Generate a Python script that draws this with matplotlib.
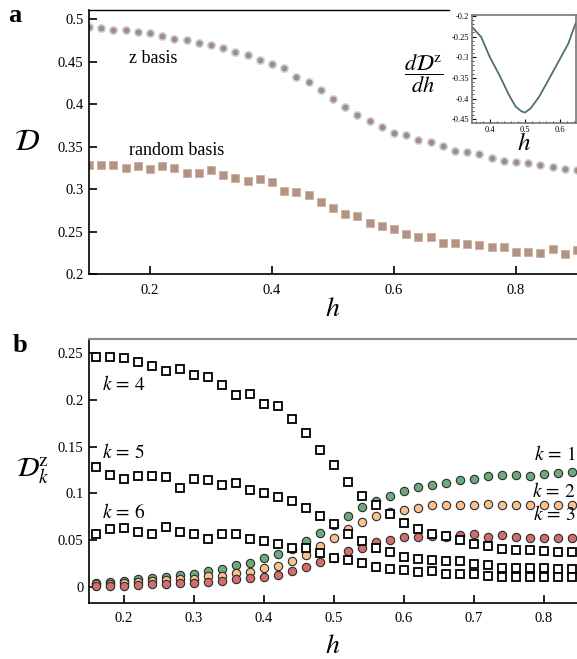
import numpy as np
import matplotlib
matplotlib.use("Agg")
import matplotlib.pyplot as plt

plt.rcParams['font.family'] = ['Liberation Serif', 'DejaVu Serif']
plt.rcParams['mathtext.fontset'] = 'stix'

# ---- panel a data ----
h_a = [0.10, 0.12, 0.14, 0.16, 0.18, 0.20, 0.22, 0.24, 0.26, 0.28, 0.30, 0.32, 0.34, 0.36,
       0.38, 0.40, 0.42, 0.44, 0.46, 0.48, 0.50, 0.52, 0.54, 0.56, 0.58, 0.60, 0.62, 0.64,
       0.66, 0.68, 0.70, 0.72, 0.74, 0.76, 0.78, 0.80, 0.82, 0.84, 0.86, 0.88, 0.90]
d_z = [0.491, 0.489, 0.487, 0.487, 0.485, 0.483, 0.480, 0.477, 0.475, 0.472, 0.469, 0.466,
       0.461, 0.458, 0.452, 0.447, 0.442, 0.432, 0.426, 0.416, 0.406, 0.396, 0.387, 0.380,
       0.373, 0.366, 0.363, 0.358, 0.355, 0.351, 0.345, 0.343, 0.341, 0.336, 0.333, 0.332,
       0.331, 0.328, 0.326, 0.323, 0.322]
d_rand = [0.328, 0.328, 0.328, 0.325, 0.327, 0.324, 0.327, 0.325, 0.319, 0.319, 0.322, 0.316,
          0.313, 0.310, 0.312, 0.308, 0.298, 0.296, 0.293, 0.285, 0.278, 0.271, 0.268, 0.260,
          0.256, 0.253, 0.247, 0.243, 0.244, 0.236, 0.236, 0.235, 0.234, 0.232, 0.232, 0.226,
          0.226, 0.225, 0.229, 0.224, 0.228]

# inset: derivative of D^z
h_in = [0.350, 0.376, 0.400, 0.428, 0.455, 0.474, 0.490, 0.500, 0.516, 0.540, 0.566,
        0.600, 0.623, 0.643]
dd_in = [-0.227, -0.251, -0.299, -0.344, -0.392, -0.420, -0.431, -0.434, -0.424, -0.396,
         -0.356, -0.303, -0.267, -0.219]

# ---- panel b data ----
h_b = [0.16, 0.18, 0.20, 0.22, 0.24, 0.26, 0.28, 0.30, 0.32, 0.34, 0.36, 0.38, 0.40, 0.42,
       0.44, 0.46, 0.48, 0.50, 0.52, 0.54, 0.56, 0.58, 0.60, 0.62, 0.64, 0.66, 0.68, 0.70,
       0.72, 0.74, 0.76, 0.78, 0.80, 0.82, 0.84]
k1 = [0.0043, 0.005, 0.006, 0.0079, 0.009, 0.011, 0.0125, 0.014, 0.0168, 0.019, 0.0232, 0.026,
      0.0304, 0.035, 0.040, 0.049, 0.058, 0.066, 0.076, 0.085, 0.092, 0.097, 0.102, 0.1065,
      0.109, 0.1115, 0.114, 0.115, 0.118, 0.120, 0.120, 0.119, 0.121, 0.122, 0.123]
k2 = [0.003, 0.003, 0.0036, 0.005, 0.0057, 0.007, 0.008, 0.0086, 0.0115, 0.012, 0.0143, 0.0154,
      0.0197, 0.0225, 0.028, 0.034, 0.044, 0.0525, 0.0615, 0.069, 0.076, 0.080, 0.082, 0.084,
      0.0875, 0.0875, 0.0875, 0.0875, 0.089, 0.088, 0.088, 0.088, 0.088, 0.0875, 0.0875]
k3 = [0.001, 0.001, 0.0014, 0.002, 0.0025, 0.003, 0.0036, 0.004, 0.0055, 0.0064, 0.0079, 0.009,
      0.0107, 0.0125, 0.0168, 0.021, 0.027, 0.031, 0.0386, 0.042, 0.048, 0.050, 0.0536, 0.0536,
      0.054, 0.053, 0.055, 0.056, 0.0536, 0.055, 0.0536, 0.052, 0.052, 0.052, 0.052]
k4 = [0.246, 0.246, 0.245, 0.240, 0.236, 0.231, 0.233, 0.227, 0.224, 0.216, 0.205, 0.206,
      0.196, 0.193, 0.179, 0.164, 0.146, 0.130, 0.112, 0.0975, 0.088, 0.078, 0.068, 0.062,
      0.057, 0.054, 0.050, 0.0457, 0.0436, 0.040, 0.039, 0.039, 0.038, 0.0375, 0.037]
k5 = [0.128, 0.120, 0.115, 0.119, 0.119, 0.117, 0.106, 0.115, 0.114, 0.109, 0.111, 0.104,
      0.100, 0.096, 0.092, 0.084, 0.076, 0.067, 0.057, 0.049, 0.041, 0.0375, 0.032, 0.030,
      0.029, 0.028, 0.028, 0.0243, 0.023, 0.0204, 0.0204, 0.0204, 0.020, 0.0194, 0.019]
k6 = [0.057, 0.062, 0.063, 0.059, 0.057, 0.064, 0.059, 0.056, 0.051, 0.057, 0.057, 0.051,
      0.049, 0.046, 0.042, 0.042, 0.036, 0.031, 0.0286, 0.026, 0.021, 0.019, 0.018, 0.016,
      0.0165, 0.0136, 0.0136, 0.0136, 0.0115, 0.011, 0.011, 0.011, 0.0107, 0.0107, 0.0107]

fig = plt.figure(figsize=(5.77, 6.59), dpi=100)

def style_axes(ax):
    ax.tick_params(direction='in', length=6, width=1.2, labelsize=10.5, pad=4)
    ax.tick_params(axis='x', pad=7)
    ax.spines['right'].set_visible(False)
    ax.spines['left'].set_linewidth(1.2)
    ax.spines['bottom'].set_linewidth(1.2)

# ---- panel a ----
ax1 = fig.add_axes([0.1542, 0.5842, 0.8458, 0.4006])
ax1.plot(h_a, d_z, 'o', ms=5.4, color='#a88b7e', mec='#c9d5ea', mew=1.1)
ax1.plot(h_a, d_rand, 's', ms=5.6, color='#b39383', mec='#c8aa9b', mew=0.5)
ax1.set_xlim(0.1, 0.9)
ax1.set_ylim(0.2, 0.5106)
ax1.set_xticks([0.2, 0.4, 0.6, 0.8])
ax1.set_yticks([0.2, 0.25, 0.3, 0.35, 0.4, 0.45, 0.5])
ax1.set_yticklabels(['0.2', '0.25', '0.3', '0.35', '0.4', '0.45', '0.5'])
style_axes(ax1)
ax1.spines['top'].set_linewidth(1.0)
ax1.spines['top'].set_bounds(0.1, 0.69)
ax1.set_xlabel('$h$', fontsize=20, labelpad=0)
ax1.set_ylabel(r'$\mathcal{D}$', fontsize=22, rotation=0, labelpad=22, va='center')
ax1.text(0.166, 0.454, 'z basis', fontsize=13, va='center')
ax1.text(0.166, 0.345, 'random basis', fontsize=13, va='center')
fig.text(0.026, 0.977, 'a', fontsize=19, fontweight='bold', va='center', ha='center')

# inset
axin = fig.add_axes([0.818, 0.8129, 0.1805, 0.1643])
axin.plot(h_in, dd_in, '-', color='#4d6f76', lw=1.3)
axin.set_xlim(0.35, 0.645)
axin.set_ylim(-0.46, -0.198)
axin.set_xticks([0.4, 0.5, 0.6])
axin.set_yticks([-0.45, -0.4, -0.35, -0.3, -0.25, -0.2])
axin.set_yticklabels(['-0.45', '-0.4', '-0.35', '-0.3', '-0.25', '-0.2'])
axin.set_xticks(np.arange(0.36, 0.645, 0.02), minor=True)
axin.set_yticks(np.arange(-0.45, -0.199, 0.01), minor=True)
axin.tick_params(direction='in', labelsize=6, length=3, width=0.8, pad=2)
axin.tick_params(which='minor', direction='in', length=1.5, width=0.5)
for s in axin.spines.values():
    s.set_color('#777777')
    s.set_linewidth(1.2)
axin.set_xlabel('$h$', fontsize=18, labelpad=-1)
fig.text(0.735, 0.889, r'$\dfrac{d\mathcal{D}^{\rm z}}{dh}$', fontsize=16,
         ha='center', va='center')

# ---- panel b ----
ax2 = fig.add_axes([0.1542, 0.0854, 0.8458, 0.4002])
circ = dict(ms=6, mec='#2b2b2b', mew=0.8, ls='none', marker='o')
ax2.plot(h_b, k1, mfc='#6dab7f', **circ)
ax2.plot(h_b, k2, mfc='#f9c18e', **circ)
ax2.plot(h_b, k3, mfc='#d06f6e', **circ)
sq = dict(ms=5.2, mfc='white', mec='black', mew=1.3, ls='none', marker='s')
ax2.plot(h_b, k4, **sq)
ax2.plot(h_b, k5, **sq)
ax2.plot(h_b, k6, **sq)
ax2.set_xlim(0.15, 0.847)
ax2.set_ylim(-0.017, 0.265)
ax2.set_xticks([0.2, 0.3, 0.4, 0.5, 0.6, 0.7, 0.8])
ax2.set_yticks([0, 0.05, 0.1, 0.15, 0.2, 0.25])
ax2.set_yticklabels(['0', '0.05', '0.1', '0.15', '0.2', '0.25'])
style_axes(ax2)
ax2.spines['top'].set_color('#888888')
ax2.spines['top'].set_linewidth(1.5)
ax2.set_xlabel('$h$', fontsize=20, labelpad=6)
ax2.set_ylabel(r'$\mathcal{D}^{\rm z}_k$', fontsize=20, rotation=0, labelpad=18, va='center')
ax2.text(0.169, 0.216, '$k\\,=\\,4$', fontsize=14, va='center')
ax2.text(0.169, 0.144, '$k\\,=\\,5$', fontsize=14, va='center')
ax2.text(0.169, 0.079, '$k\\,=\\,6$', fontsize=14, va='center')
ax2.text(0.845, 0.141, '$k\\,=\\,1$', fontsize=14, va='center', ha='right')
ax2.text(0.845, 0.102, '$k\\,=\\,2$', fontsize=14, va='center', ha='right')
ax2.text(0.845, 0.077, '$k\\,=\\,3$', fontsize=14, va='center', ha='right')
fig.text(0.035, 0.476, 'b', fontsize=19, fontweight='bold', va='center', ha='center')

fig.savefig('out.png', dpi=100)
